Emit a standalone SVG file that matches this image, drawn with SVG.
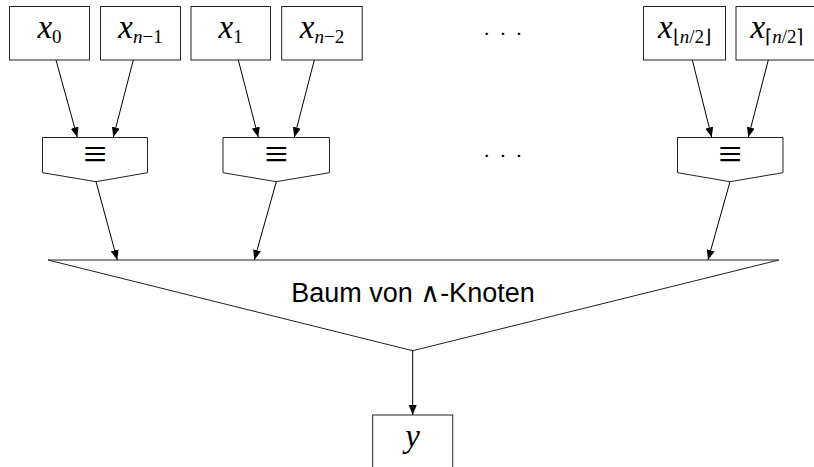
<svg xmlns="http://www.w3.org/2000/svg" width="814" height="467" viewBox="0 0 814 467">
<defs>
<marker id="ah" viewBox="0 0 10 8" refX="10" refY="4" markerWidth="10" markerHeight="8" markerUnits="userSpaceOnUse" orient="auto">
<path d="M0,0 L10,4 L0,8 Z" fill="#000"/>
</marker>
<style>
.box{fill:#fff;stroke:#222;stroke-width:1}
.m{font-family:"Liberation Serif","Times New Roman",serif;font-style:italic;font-size:33px;fill:#000;text-anchor:middle}
.s{font-size:19px;font-style:normal}
.si{font-size:19px}
.eq{font-family:"Liberation Serif",serif;font-size:42px;fill:#000;text-anchor:middle}
.lbl{font-family:"Liberation Sans","DejaVu Sans",sans-serif;font-size:27px;fill:#000;text-anchor:middle}
.dots{font-family:"Liberation Serif",serif;font-size:22px;fill:#000;letter-spacing:8.8px}
.c{fill:none;stroke:#000;stroke-width:1;marker-end:url(#ah)}
</style>
</defs>
<rect width="814" height="467" fill="#fff"/>

<g id="x0"><rect class="box" x="9.5" y="6.5" width="80" height="53.5"/><text class="m" x="49.5" y="38.3">x<tspan class="s" dy="4.4">0</tspan></text></g>
<g id="xn1"><rect class="box" x="100.5" y="6.5" width="80" height="53.5"/><text class="m" x="140.5" y="38.3">x<tspan class="si" dy="4.4">n</tspan><tspan class="s">−1</tspan></text></g>
<g id="x1"><rect class="box" x="191" y="6.5" width="79.5" height="53.5"/><text class="m" x="230.7" y="38.3">x<tspan class="s" dy="4.4">1</tspan></text></g>
<g id="xn2"><rect class="box" x="281.7" y="6.5" width="80.5" height="53.5"/><text class="m" x="322" y="38.3">x<tspan class="si" dy="4.4">n</tspan><tspan class="s">−2</tspan></text></g>
<g id="xfloor"><rect class="box" x="643.5" y="6.5" width="82" height="53.5"/><text class="m" x="684.5" y="38.3">x<tspan class="s" dy="4.4">⌊</tspan><tspan class="si">n</tspan><tspan class="s">/2⌋</tspan></text></g>
<g id="xceil"><rect class="box" x="736" y="6.5" width="82" height="53.5"/><text class="m" x="777" y="38.3">x<tspan class="s" dy="4.4">⌈</tspan><tspan class="si">n</tspan><tspan class="s">/2⌉</tspan></text></g>

<g id="dots1"><text class="dots" x="483" y="41">···</text></g>
<g id="dots2"><text class="dots" x="483" y="163">···</text></g>

<g id="eq1"><path class="box" d="M42.5,137.5 H147.5 V172.7 L96,181.7 L42.5,172.7 Z"/><text class="eq" x="95" y="168.4">≡</text></g>
<g id="eq2"><path class="box" d="M223,137.5 H329.5 V172.7 L276.3,181.7 L223,172.7 Z"/><text class="eq" x="276.3" y="168.4">≡</text></g>
<g id="eq3"><path class="box" d="M677.5,137.5 H783 V172.7 L730,181.7 L677.5,172.7 Z"/><text class="eq" x="730" y="168.4">≡</text></g>

<g id="tree"><path class="box" d="M48,260 H779 L412.7,350.7 Z"/><text class="lbl" x="413" y="301.7">Baum von ∧-Knoten</text></g>

<g id="y"><rect class="box" x="372.7" y="415" width="80" height="60"/><text class="m" x="412.7" y="446.5">y</text></g>

<g id="connectors">
<line class="c" x1="56" y1="60" x2="77.3" y2="137.3"/>
<line class="c" x1="133.3" y1="60" x2="113.3" y2="137.3"/>
<line class="c" x1="238.3" y1="60" x2="258.3" y2="137.3"/>
<line class="c" x1="314.3" y1="60" x2="294.3" y2="137.3"/>
<line class="c" x1="692.3" y1="60" x2="711.7" y2="137.3"/>
<line class="c" x1="768.3" y1="60" x2="748.3" y2="137.3"/>
<line class="c" x1="96" y1="181.7" x2="117.3" y2="260"/>
<line class="c" x1="276.3" y1="181.7" x2="254.3" y2="260"/>
<line class="c" x1="730" y1="181.7" x2="708" y2="260"/>
<line class="c" x1="412.7" y1="350.7" x2="412.7" y2="415"/>
</g>
</svg>
